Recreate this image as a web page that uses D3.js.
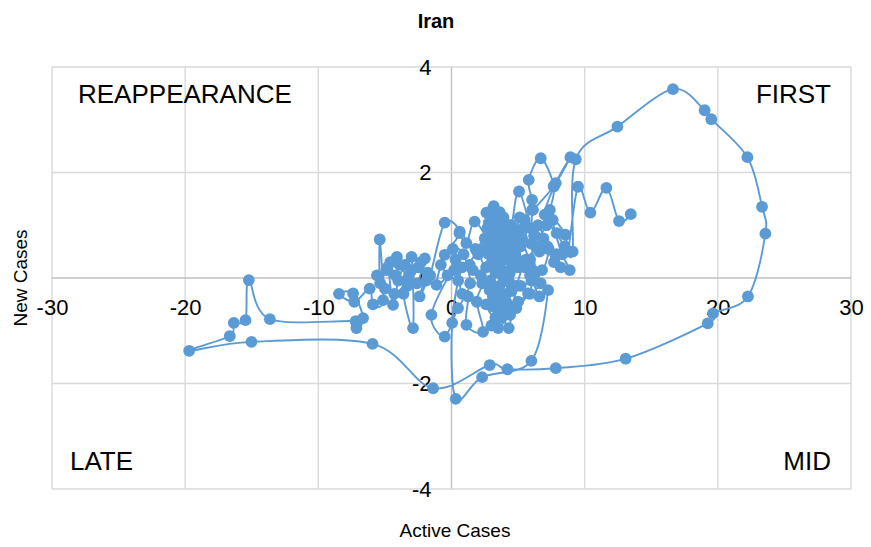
<!DOCTYPE html>
<html>
<head>
<meta charset="utf-8">
<script src="https://cdn.jsdelivr.net/npm/d3@7"></script>
<style>
  html, body { margin: 0; padding: 0; background: #ffffff; }
  svg { display: block; font-family: "Liberation Sans", Arial, sans-serif; }
</style>
</head>
<body>
<svg id="chart" width="871" height="547"></svg>
<script>
// Iran: change in active cases (x) against change in new cases (y), one point per step
const activeCases = [
  13.46, 12.58, 11.63, 10.43, 9.5, 8.75, 8.55, 7.6, 8.3, 8.88, 7.7, 6.9, 6.05, 6.6, 7.3, 6.8,
  5.9, 5.3, 5.12, 4.6, 4.1, 3.75, 3.5, 4.0, 3.3, 2.8, 3.2, 3.62, 3.3, 2.6, 2.0, 1.37,
  2.2, 3.0, 3.5, 4.3, 4.8, 5.5, 6.0, 5.2, 4.5, 3.87, 3.3, 2.87, 3.12, 3.7, 4.1, 4.87,
  5.75, 6.3, 6.0, 6.05, 6.05, 5.8, 6.7, 7.68, 7.38, 7.13, 6.2, 5.07, 4.5, 3.9, 3.17, 2.62,
  3.4, 2.9, 1.74, 1.12, 0.62, 1.8, 2.5, 3.3, 4.2, 5.0, 5.5, 6.12, 7.68, 8.93, 7.83, 7.0,
  7.9, 8.5, 9.1, 9.33, 12.46, 16.63, 19.01, 19.51, 22.22, 23.32, 23.57, 22.26, 19.64, 19.24, 13.08, 7.83,
  4.2, 2.87, -1.38, -5.93, -15.02, -19.7, -16.65, -16.35, -15.47, -15.22, -13.64, -7.2, -7.14, -6.64, -7.39, -8.45,
  -7.3, -6.14, -5.9, -5.14, -5.39, -5.35, -4.8, -4.39, -4.0, -3.5, -3.0, -2.89, -3.6, -3.2, -2.5, -2.0,
  -2.6, -3.3, -4.2, -4.6, -3.9, -3.4, -4.3, -5.0, -5.6, -4.9, -4.1, -3.0, -2.3, -1.9, -2.4, -1.8,
  -1.6, -0.51, 0.6, -0.51, -1.13, -0.3, 0.3, 0.5, -0.8, 0.1, 0.9, 1.4, 0.8, 0.2, -1.51, -0.51,
  0.49, 1.24, 1.12, 2.37, 1.9, 2.3, 1.6, 0.8, 0.05, 0.32, 2.3, 6.0, 7.25, 6.6, 5.9, 5.0,
  4.4, 3.8, 3.2, 2.7, 3.5, 4.2, 4.8, 3.5, 3.0, 3.75, 4.3, 4.9, 5.6, 6.4, 5.9, 5.2,
  4.6, 4.0, 3.4, 2.9, 3.6, 4.2, 3.3, 2.6, 3.1, 3.9, 4.5, 5.3, 6.1, 6.7, 5.9, 5.0,
  4.4, 3.5, 3.8, 3.3, 2.9, 2.4, 3.0, 3.7, 4.3, 3.9, 3.2, 2.8, 3.6, 4.7, 5.4, 6.5,
  7.2, 7.9, 8.2
];
const newCases = [
  1.21, 1.08, 1.71, 1.24, 1.73, 0.5, 0.82, 1.1, 0.45, 0.15, 0.3, 0.75, 0.94, 0.5, 0.55, 0.15,
  0.35, 0.75, 1.15, 0.65, 0.95, 1.05, 0.6, 0.35, 0.1, 0.45, 0.85, 1.25, 0.5, 0.2, 0.45, 0.25,
  0.05, -0.15, 0.25, 0.1, 0.45, 0.2, -0.05, -0.15, -0.25, -0.45, -0.2, -0.23, -0.54, -0.75, -0.3, -0.57,
  -0.29, 0.1, 0.65, 1.29, 1.48, 1.86, 2.27, 1.74, 1.29, 1.0, 0.8, 1.64, 1.0, 0.7, 1.36, 1.24,
  0.95, 0.7, 1.07, 0.66, 0.88, 0.55, 0.75, 0.35, 0.55, 0.9, 1.1, 1.29, 1.74, 2.29, 1.8, 1.2,
  0.85, 0.6, 0.5, 2.25, 2.87, 3.58, 3.18, 3.01, 2.29, 1.35, 0.84, -0.35, -0.67, -0.86, -1.53, -1.71,
  -1.73, -1.65, -2.09, -1.25, -1.21, -1.38, -1.1, -0.85, -0.8, -0.04, -0.78, -0.82, -0.95, -0.76, -0.29, -0.3,
  -0.45, -0.2, -0.5, -0.42, 0.73, -0.1, 0.2, -0.51, -0.05, 0.25, 0.4, -0.95, -0.3, 0.05, 0.2, 0.37,
  -0.1, -0.15, 0.05, 0.3, 0.25, -0.05, -0.3, -0.2, 0.05, 0.15, 0.4, 0.15, 0.3, -0.05, -0.35, 0.1,
  0.05, 1.05, 0.85, 0.44, -0.13, 0.05, 0.35, -0.05, 0.25, 0.55, 0.45, -0.1, -0.3, 0.15, -0.7, -1.11,
  -0.57, -0.35, -0.89, -1.02, -0.45, -0.1, 0.15, 0.2, -0.85, -2.29, -1.88, -1.57, -0.23, -0.35, 0.05, 0.2,
  -0.1, 0.15, 0.6, 0.95, 1.15, 0.8, 0.55, -0.4, -0.9, -0.64, -0.95, -0.15, 0.35, 0.6, 0.95, 0.6,
  0.25, 0.6, 0.3, -0.05, -0.15, -0.5, -0.75, -0.5, -0.35, 0.0, 0.45, 0.3, 0.15, -0.1, -0.3, -0.45,
  -0.7, -0.95, -0.6, -0.45, 0.25, 0.55, 0.75, 0.85, 1.0, 1.15, 1.2, 1.05, 0.45, 0.8, 0.95, 1.0,
  0.6, 0.45, 0.2
];
const xTicks = [-30, -20, -10, 0, 10, 20, 30];
const yTicks = [-4, -2, 0, 2, 4];
const quadrantLabels = ["REAPPEARANCE", "FIRST", "LATE", "MID"];

const points = activeCases.map((x, i) => ({ x, y: newCases[i] }));

const svg = d3.select("#chart");
const blue = "#5b9bd5";

const x = d3.scaleLinear().domain([-30, 30]).range([52, 851]);
const y = d3.scaleLinear().domain([-4, 4]).range([489, 67]);

// grid
const grid = svg.append("g");
grid.selectAll("line.v").data(xTicks).join("line")
  .attr("x1", d => x(d)).attr("x2", d => x(d))
  .attr("y1", y(4)).attr("y2", y(-4))
  .attr("stroke", d => d === 0 ? "#bfbfbf" : "#d9d9d9").attr("stroke-width", 1.4);
grid.selectAll("line.h").data(yTicks).join("line")
  .attr("y1", d => y(d)).attr("y2", d => y(d))
  .attr("x1", x(-30)).attr("x2", x(30))
  .attr("stroke", d => d === 0 ? "#bfbfbf" : "#d9d9d9").attr("stroke-width", 1.4);

// axes crossing at the origin
const xAxis = svg.append("g")
  .attr("transform", `translate(0,${y(0)})`)
  .call(d3.axisBottom(x).tickValues(xTicks).tickSize(0).tickPadding(21).tickFormat(d3.format("d")));
const yAxis = svg.append("g")
  .attr("transform", `translate(${x(0)},0)`)
  .call(d3.axisLeft(y).tickValues(yTicks).tickSize(0).tickPadding(20).tickFormat(d3.format("d")));
[xAxis, yAxis].forEach(g => {
  g.select(".domain").remove();
  g.selectAll("text")
    .attr("font-family", "'Liberation Sans', Arial, sans-serif")
    .attr("font-size", 22).attr("fill", "#000");
});
xAxis.selectAll("text").text(d => d < 0 ? "-" + Math.abs(d) : d);
yAxis.selectAll("text").text(d => d < 0 ? "-" + Math.abs(d) : d);

// smoothed trajectory
const line = d3.line().x(d => x(d.x)).y(d => y(d.y)).curve(d3.curveCatmullRom.alpha(0));
svg.append("path").datum(points)
  .attr("d", line).attr("fill", "none")
  .attr("stroke", blue).attr("stroke-width", 1.9);

svg.append("g").selectAll("circle").data(points).join("circle")
  .attr("cx", d => x(d.x)).attr("cy", d => y(d.y)).attr("r", 5.9)
  .attr("fill", blue);

// quadrant labels
const q = svg.append("g").attr("font-size", 26).attr("fill", "#000");
q.append("text").attr("x", 78).attr("y", 103).text(quadrantLabels[0]);
q.append("text").attr("x", 831).attr("y", 103).attr("text-anchor", "end").text(quadrantLabels[1]);
q.append("text").attr("x", 70).attr("y", 470).text(quadrantLabels[2]);
q.append("text").attr("x", 831).attr("y", 470).attr("text-anchor", "end").text(quadrantLabels[3]);

// titles
svg.append("text").attr("x", 436).attr("y", 28).attr("text-anchor", "middle")
  .attr("font-size", 20).attr("font-weight", "bold").text("Iran");
svg.append("text").attr("x", 455).attr("y", 537).attr("text-anchor", "middle")
  .attr("font-size", 19).text("Active Cases");
svg.append("text").attr("transform", "translate(27,278) rotate(-90)").attr("text-anchor", "middle")
  .attr("font-size", 19).text("New Cases");
</script>
</body>
</html>
